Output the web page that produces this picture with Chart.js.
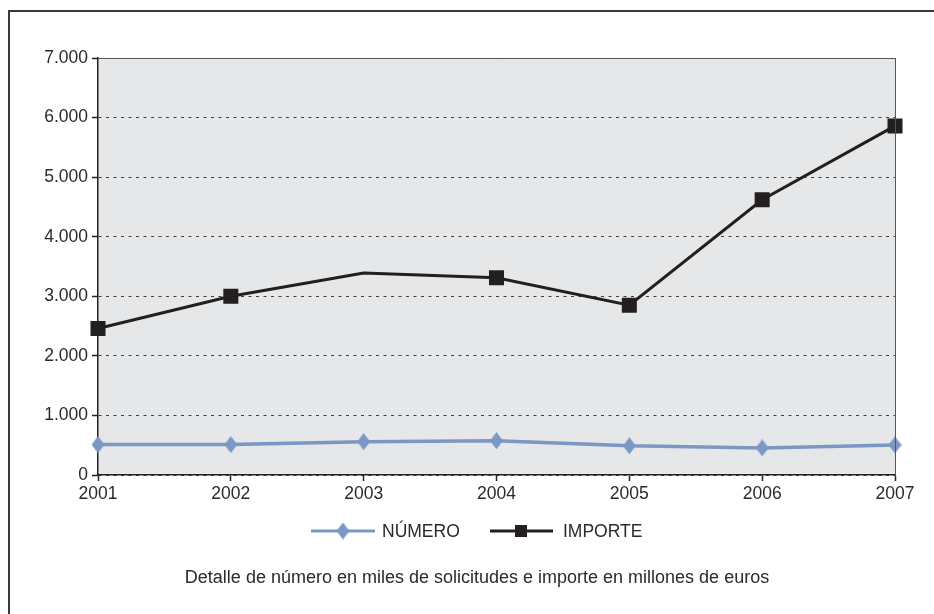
<!DOCTYPE html>
<html>
<head>
<meta charset="utf-8">
<script src="https://cdn.jsdelivr.net/npm/chart.js@4/dist/chart.umd.min.js"></script>
<style>
  html, body { margin: 0; padding: 0; background: #fff; }
  #wrap { position: relative; width: 934px; height: 614px; overflow: hidden; }
  #frame { position: absolute; left: 8px; top: 10px; right: -10px; bottom: -10px;
           border-left: 2px solid #3a3a3a; border-top: 2px solid #3a3a3a; }
  canvas { position: absolute; left: 0; top: 0; }
</style>
</head>
<body>
<div id="wrap">
  <div id="frame"></div>
  <canvas id="c" width="934" height="614"></canvas>
</div>
<script>
// Years on the horizontal axis
const years = ['2001', '2002', '2003', '2004', '2005', '2006', '2007'];
// Number of applications (thousands)
const numero = [510, 510, 560, 575, 490, 455, 505];
// Amount (million euros)
const importe = [2460, 3000, 3390, 3310, 2850, 4620, 5860];
// Marker shown at each amount point (the 2003 point carries none)
const importeMarker = [true, true, false, true, true, true, true];
const yTicks = [0, 1000, 2000, 3000, 4000, 5000, 6000, 7000];
const caption = 'Detalle de número en miles de solicitudes e importe en millones de euros';

const BLUE = '#7b97c4';
const DARK = '#231f20';
const TEXT = '#2a2a2a';
const FONT = '"Liberation Sans", Arial, sans-serif';

// Tall, narrow diamond marker
function diamond(w, h, color) {
  const cv = document.createElement('canvas');
  cv.width = w; cv.height = h;
  const g = cv.getContext('2d');
  g.fillStyle = color;
  g.beginPath();
  g.moveTo(w / 2, 0); g.lineTo(w, h / 2); g.lineTo(w / 2, h); g.lineTo(0, h / 2);
  g.closePath(); g.fill();
  return cv;
}
const diamondImg = diamond(13, 17, BLUE);

const fmt = v => v === 0 ? '0' : v.toLocaleString('de-DE');

const plotBg = {
  id: 'plotBg',
  beforeDraw(chart) {
    const { ctx, chartArea: a } = chart;
    ctx.save();
    ctx.fillStyle = '#e6e7e9';
    ctx.fillRect(a.left, a.top, a.right - a.left, a.bottom - a.top);
    ctx.restore();
  },
  afterDatasetsDraw(chart) {
    const { ctx, chartArea: a } = chart;
    ctx.save();
    // top and right edges of the plot
    ctx.strokeStyle = '#555';
    ctx.lineWidth = 1;
    ctx.beginPath();
    ctx.moveTo(a.left, a.top + 0.5); ctx.lineTo(a.right, a.top + 0.5);
    ctx.moveTo(a.right + 0.5, a.top); ctx.lineTo(a.right + 0.5, a.bottom);
    ctx.stroke();
    ctx.restore();
  },
  afterDraw(chart) {
    const { ctx } = chart;
    ctx.save();
    // legend
    const ly = 531;
    ctx.font = '17.5px ' + FONT;
    ctx.textBaseline = 'middle';
    ctx.fillStyle = TEXT;
    // NÚMERO
    ctx.strokeStyle = BLUE; ctx.lineWidth = 3;
    ctx.beginPath(); ctx.moveTo(311, ly); ctx.lineTo(375, ly); ctx.stroke();
    ctx.drawImage(diamondImg, 343 - 6.5, ly - 8.5);
    ctx.fillText(chart.data.datasets[0].label, 382, ly + 1);
    // IMPORTE
    ctx.strokeStyle = DARK;
    ctx.beginPath(); ctx.moveTo(490, ly); ctx.lineTo(553, ly); ctx.stroke();
    ctx.fillStyle = DARK;
    ctx.fillRect(521 - 6, ly - 6, 12, 12);
    ctx.fillStyle = TEXT;
    ctx.fillText(chart.data.datasets[1].label, 563, ly + 1);
    // caption
    ctx.font = '18px ' + FONT;
    ctx.textAlign = 'center';
    ctx.fillText(caption, 477, 578);
    ctx.restore();
  }
};

new Chart(document.getElementById('c'), {
  type: 'line',
  data: {
    labels: years,
    datasets: [
      {
        label: 'NÚMERO',
        data: numero,
        borderColor: BLUE,
        backgroundColor: BLUE,
        borderWidth: 3.5,
        pointStyle: diamondImg,
        pointRadius: 8,
        tension: 0,
        clip: false
      },
      {
        label: 'IMPORTE',
        data: importe,
        borderColor: DARK,
        backgroundColor: DARK,
        borderWidth: 3,
        pointStyle: 'rect',
        pointRadius: importeMarker.map(m => m ? 8.5 : 0),
        tension: 0,
        clip: false
      }
    ]
  },
  options: {
    responsive: false,
    animation: false,
    events: [],
    layout: { padding: { top: 58, left: 10, right: 39, bottom: 99 } },
    plugins: { legend: { display: false }, tooltip: { enabled: false } },
    scales: {
      x: {
        offset: false,
        afterFit(s) { s.height = 40; },
        grid: { display: true, drawOnChartArea: false, drawTicks: true, tickLength: 6,
                tickColor: '#222', tickWidth: 1.5 },
        border: { display: true, color: '#222', width: 1.5 },
        ticks: { color: TEXT, font: { family: FONT, size: 17.5 }, padding: 3, maxRotation: 0 }
      },
      y: {
        min: 0, max: 7000,
        afterFit(s) { s.width = 88; },
        afterBuildTicks(s) { s.ticks = yTicks.map(v => ({ value: v })); },
        grid: { color: '#3d3d3d', lineWidth: 1, tickLength: 6,
                tickColor: '#222', tickBorderDash: [], tickWidth: 1.5 },
        border: { display: true, color: '#222', width: 1.5, dash: [3, 4.5] },
        ticks: { color: TEXT, font: { family: FONT, size: 17.5 }, padding: 4,
                 callback: v => fmt(v) }
      }
    }
  },
  plugins: [plotBg]
});
</script>
</body>
</html>
